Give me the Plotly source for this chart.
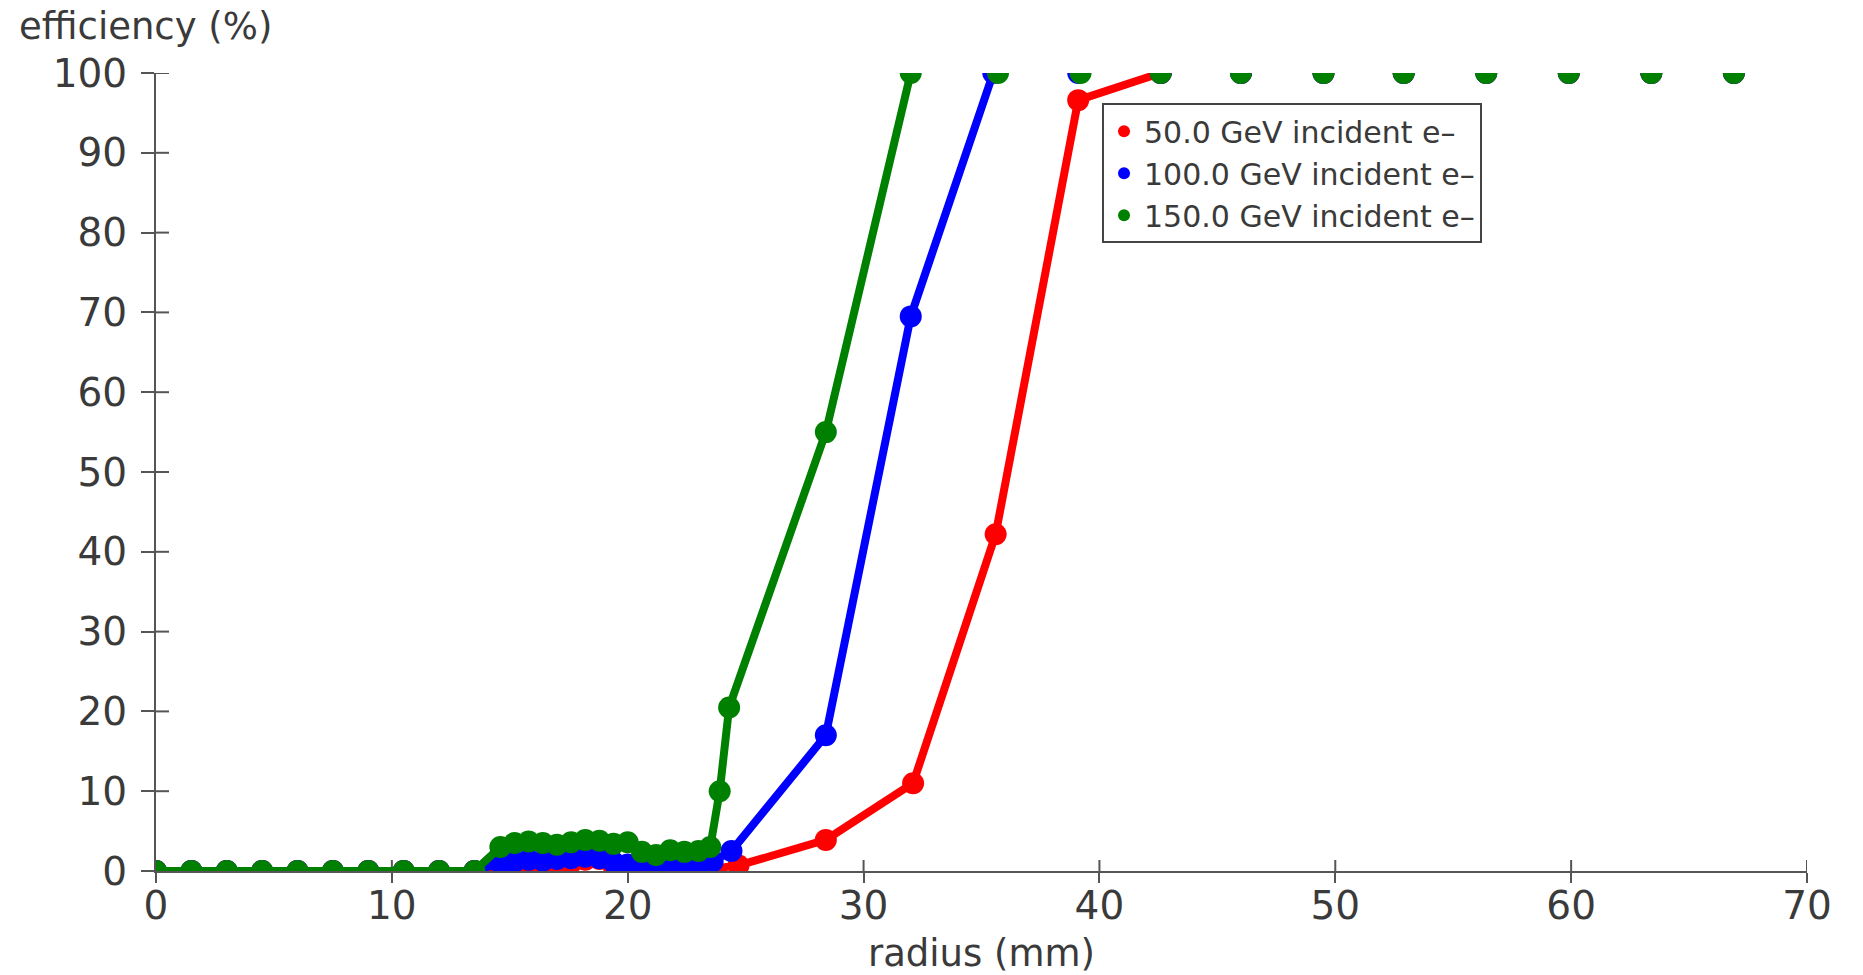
import plotly.graph_objects as go

# Radius scan (mm) and trigger efficiency (%) for three beam energies
radius_50 = [0.0, 1.5, 3.0, 4.5, 6.0, 7.5, 9.0, 10.5, 12.0, 13.5,
             14.6, 15.2, 15.8, 16.4, 17.0, 17.6, 18.2, 18.8, 19.4, 20.0,
             20.6, 21.2, 21.8, 22.4, 23.0, 23.6,
             24.7, 28.4, 32.1, 35.6, 39.1, 42.6, 46.0, 49.5, 52.9, 56.4,
             59.9, 63.4, 66.9]
eff_50 = [0, 0, 0, 0, 0, 0, 0, 0, 0, 0,
          0.0, 0.0, 0.3, 0.6, 0.5, 1.0, 1.4, 1.5, 0.6, 0.3,
          0.2, 0.2, 0.1, 0.2, 0.2, 0.3,
          0.7, 3.9, 11.0, 42.2, 96.6, 100, 100, 100, 100, 100,
          100, 100, 100]

radius_100 = [0.0, 1.5, 3.0, 4.5, 6.0, 7.5, 9.0, 10.5, 12.0, 13.5,
              14.6, 15.2, 15.8, 16.4, 17.0, 17.6, 18.2, 18.8, 19.4, 20.0,
              20.6, 21.2, 21.8, 22.4, 23.0, 23.6,
              24.4, 28.4, 32.0, 35.5, 39.1, 42.6, 46.0, 49.5, 52.9, 56.4,
              59.9, 63.4, 66.9]
eff_100 = [0, 0, 0, 0, 0, 0, 0, 0, 0, 0,
           1.0, 1.2, 1.4, 1.3, 1.5, 1.6, 1.8, 1.6, 1.1, 0.8,
           0.7, 0.6, 0.6, 0.7, 0.8, 1.2,
           2.5, 17.0, 69.5, 100, 100, 100, 100, 100, 100, 100,
           100, 100, 100]

radius_150 = [0.0, 1.5, 3.0, 4.5, 6.0, 7.5, 9.0, 10.5, 12.0, 13.5,
              14.6, 15.2, 15.8, 16.4, 17.0, 17.6, 18.2, 18.8, 19.4, 20.0,
              20.6, 21.2, 21.8, 22.4, 23.0, 23.5,
              23.9, 24.3, 28.4, 32.0, 35.7, 39.2, 42.6, 46.0, 49.5, 52.9,
              56.4, 59.9, 63.4, 66.9]
eff_150 = [0, 0, 0, 0, 0, 0, 0, 0, 0, 0,
           3.0, 3.5, 3.7, 3.5, 3.3, 3.6, 3.9, 3.8, 3.4, 3.6,
           2.4, 2.0, 2.6, 2.4, 2.5, 3.0,
           10.0, 20.5, 55.0, 100, 100, 100, 100, 100, 100, 100,
           100, 100, 100, 100]

series_names = ["50.0 GeV incident e\u2013", "100.0 GeV incident e\u2013",
                "150.0 GeV incident e\u2013"]
series_colors = ["#ff0000", "#0000ff", "#008000"]

x_ticks = [0, 10, 20, 30, 40, 50, 60, 70]
y_ticks = [0, 10, 20, 30, 40, 50, 60, 70, 80, 90, 100]

FONT = "DejaVu Sans"
TEXT = "#3a3a3a"
AXIS = "#555555"

fig = go.Figure()

series = [(radius_50, eff_50), (radius_100, eff_100), (radius_150, eff_150)]
for (xs, ys), name, color in zip(series, series_names, series_colors):
    # connecting line runs up to the first point at full efficiency
    stop = ys.index(100) + 1 if 100 in ys else len(ys)
    fig.add_trace(go.Scatter(
        x=xs[:stop], y=ys[:stop], mode="lines",
        line=dict(color=color, width=8),
        showlegend=False, hoverinfo="skip", cliponaxis=True,
    ))
    fig.add_trace(go.Scatter(
        x=xs, y=ys, mode="markers", name=name, cliponaxis=True,
        marker=dict(color=color, size=22, symbol="circle"),
    ))

axis_common = dict(
    showgrid=False, zeroline=False, automargin=False,
    showline=True, linecolor=AXIS, linewidth=2,
    ticks="outside", tickwidth=2, tickcolor=AXIS,
    tickfont=dict(family=FONT, size=39, color=TEXT),
)

# inner half of each tick mark, so ticks cross the axis lines
tick_shapes = []
for v in y_ticks:
    tick_shapes.append(dict(
        type="line", layer="below", xref="x", yref="y",
        xsizemode="pixel", xanchor=0, x0=0, x1=13, y0=v, y1=v,
        line=dict(color=AXIS, width=2),
    ))
for v in x_ticks:
    tick_shapes.append(dict(
        type="line", layer="below", xref="x", yref="y",
        ysizemode="pixel", yanchor=0, y0=0, y1=11, x0=v, x1=v,
        line=dict(color=AXIS, width=2),
    ))

fig.update_layout(
    width=1863, height=975,
    margin=dict(l=156, r=56, t=73, b=104),
    paper_bgcolor="white", plot_bgcolor="white",
    font=dict(family=FONT, color=TEXT),
    xaxis=dict(
        range=[0, 70], tickvals=x_ticks, ticklen=10, ticklabelstandoff=-11,
        title=dict(text="radius (mm)", font=dict(family=FONT, size=37, color=TEXT),
                   standoff=15),
        **axis_common,
    ),
    yaxis=dict(
        range=[0, 100], tickvals=y_ticks, ticklen=13, ticklabelstandoff=6,
        **axis_common,
    ),
    legend=dict(
        x=0.573, y=0.962, xanchor="left", yanchor="top",
        bgcolor="white", bordercolor="#444444", borderwidth=2,
        font=dict(family=FONT, size=30, color=TEXT),
        itemsizing="constant", tracegroupgap=0,
    ),
    shapes=tick_shapes,
    annotations=[dict(
        text="efficiency (%)", xref="paper", yref="paper",
        x=-0.084, y=1.058, xanchor="left", yanchor="middle",
        showarrow=False, font=dict(family=FONT, size=37, color=TEXT),
    )],
)

fig.write_html("out.html")
